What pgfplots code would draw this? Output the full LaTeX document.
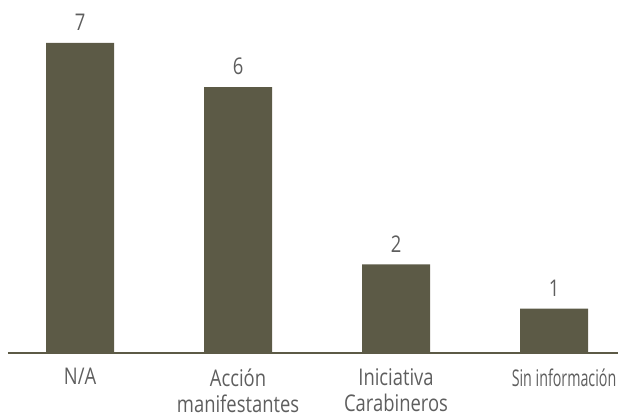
\documentclass[border=0pt]{standalone}
\usepackage{pgfplots}
\pgfplotsset{compat=1.18}
\usepackage{fontspec}
\setmainfont[FakeStretch=0.8]{Open Sans}
\newfontfamily\narrowfont[FakeStretch=0.62]{Open Sans}
\definecolor{barcol}{HTML}{5C5A46}
\definecolor{txtcol}{HTML}{5E5E5E}
\begin{document}
\begin{tikzpicture}
\useasboundingbox (-8pt,-66pt) rectangle (610pt,353pt);
\begin{axis}[
  at={(0,0)}, anchor=south west,
  scale only axis,
  width=610pt, height=353pt,
  xmin=-0.456, xmax=3.405,
  ymin=0, ymax=7.97,
  axis x line*=bottom,
  axis y line=none,
  x axis line style={draw=barcol, line width=2.5pt, -},
  xtick={0,1,2},
  xticklabels={N/A, Acción\\manifestantes, Iniciativa\\Carabineros},
  extra x ticks={3},
  extra x tick labels={{\narrowfont\fontsize{23}{26}\selectfont Sin información}},
  extra x tick style={xticklabel style={xshift=10pt}},
  xtick style={draw=none},
  xticklabel style={align=center, font=\fontsize{23}{26}\selectfont, text=txtcol, anchor=north, inner sep=0pt, yshift=-11pt},
  /pgf/number format/assume math mode=true,
  ybar, bar width=68pt,
  nodes near coords,
  every node near coord/.append style={font=\fontsize{23}{26}\selectfont, text=txtcol, inner sep=0pt, yshift=12pt},
  clip=false,
]
\addplot[fill=barcol, draw=none] coordinates {(0,7) (1,6) (2,2) (3,1)};
\end{axis}
\end{tikzpicture}
\end{document}
